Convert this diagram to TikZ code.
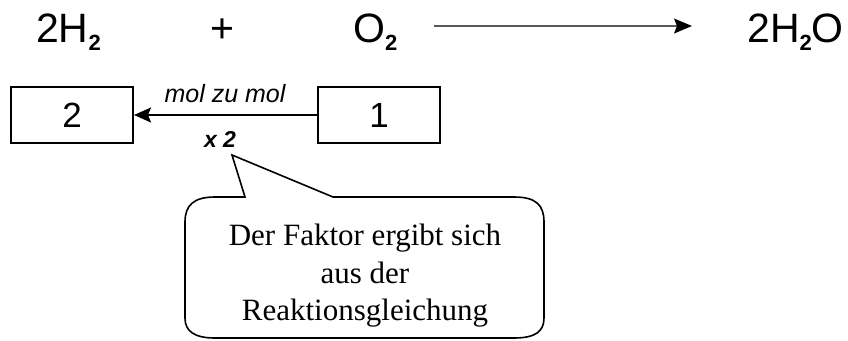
\documentclass[tikz,border=0pt]{standalone}
\usepackage{fontspec}
\setmainfont{Liberation Serif}
\setsansfont{Liberation Sans}
\usetikzlibrary{arrows.meta}
\newcommand\chsub[1]{\raisebox{-8pt}{\fontsize{22}{22}\selectfont\bfseries #1}}
\begin{document}
\begin{tikzpicture}[x=1pt,y=-1pt,
  formula/.style={inner sep=0pt,anchor=base west,font=\sffamily\fontsize{41}{48}\selectfont},
  numbox/.style={draw,line width=2pt,minimum width=122pt,minimum height=56pt,inner sep=0pt,
     font=\sffamily\fontsize{35}{40}\selectfont},
  smalllabel/.style={inner sep=0pt,anchor=base,font=\sffamily\itshape\fontsize{25}{28}\selectfont},
  notetext/.style={inner sep=0pt,align=center,font=\rmfamily\fontsize{31}{37.5}\selectfont},
  callout/.style={draw,line width=1.6pt},
  rxarrow/.style={draw=black!65,line width=1.2pt,-{Stealth[length=18pt,width=15pt,inset=3pt,fill=black,color=black]}},
  molarrow/.style={draw,line width=2pt,-{Stealth[length=17pt,width=15pt,inset=3pt]}}
]
\useasboundingbox (0,0) rectangle (848,340);

% reaction equation
\node[formula] (h2)  at (36,42)  {2H\chsub{2}};
\node[formula,anchor=base] (plus) at (222,42) {+};
\node[formula] (o2)  at (353,42) {O\chsub{2}};
\node[formula] (h2o) at (747,42) {2H\chsub{2}O};
\coordinate (ra) at (434,26);
\coordinate (rb) at (692,26);
\draw[rxarrow] (ra) -- (rb);

% mol boxes
\node[numbox] (b2) at (72,115)  {2};
\node[numbox] (b1) at (379,115) {1};
\draw[molarrow] (b1.west) -- (b2.east);
\node[smalllabel] (mzm) at (225,102) {mol zu mol};
\node[smalllabel,font=\sffamily\bfseries\itshape\fontsize{23}{26}\selectfont] (fac) at (220,147) {x 2};

% callout
\draw[callout] (232,155) -- (245,197) -- (215,197)
  .. controls (194,197) and (185,205) .. (185,222) -- (185,318)
  .. controls (185,331) and (194,338) .. (215,338) -- (514,338)
  .. controls (536,338) and (544,331) .. (544,318) -- (544,222)
  .. controls (544,205) and (536,197) .. (514,197) -- (333,197) -- cycle;
\node[notetext] (note) at (365,276) {Der Faktor ergibt sich\\aus der\\Reaktionsgleichung};
\end{tikzpicture}
\end{document}
